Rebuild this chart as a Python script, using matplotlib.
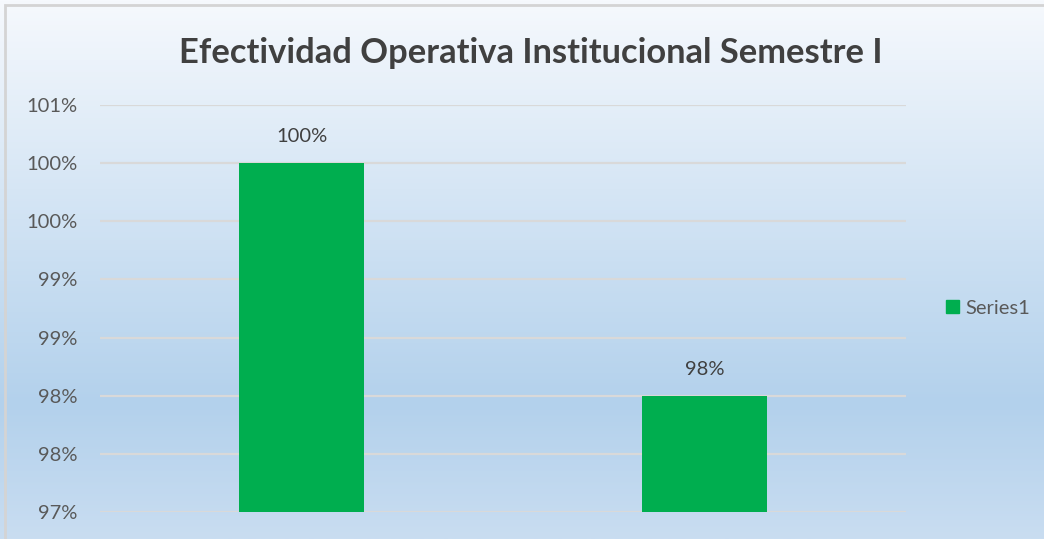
import matplotlib
matplotlib.use("Agg")
import matplotlib.pyplot as plt
import numpy as np
from matplotlib.ticker import FixedLocator, FuncFormatter
from matplotlib.patches import Rectangle

categories = ["Cat1", "Cat2"]
values = [1.00, 0.98]
series_name = "Series1"
title = "Efectividad Operativa Institucional Semestre I"
y_min, y_max, y_step = 0.97, 1.005, 0.005

W, H = 1044, 539
fig = plt.figure(figsize=(W / 100, H / 100), dpi=100)


def pct(v):
    # Excel style half-up rounding
    return f"{int(np.floor(v * 100 + 0.5 + 1e-9))}%"


# background gradient
bg = fig.add_axes([0, 0, 1, 1], zorder=-10)
bg.set_axis_off()
stops_y = [0.0, 0.35, 0.75, 1.0]
c_top = np.array([0xf6, 0xf9, 0xfd]) / 255
c_mid = np.array([0xd6, 0xe6, 0xf5]) / 255
c_dark = np.array([0xb3, 0xd1, 0xec]) / 255
c_bot = np.array([0xc9, 0xdd, 0xf1]) / 255
cols = [c_top, c_mid, c_dark, c_bot]
t = np.linspace(0, 1, 300)
grad = np.zeros((300, 1, 3))
for ch in range(3):
    grad[:, 0, ch] = np.interp(t, stops_y, [c[ch] for c in cols])
bg.imshow(grad, aspect="auto", extent=[0, 1, 0, 1], origin="upper")
bg.set_xlim(0, 1)
bg.set_ylim(0, 1)
bg.add_patch(Rectangle((5 / W, -0.01), 1.1, 1 - 5 / H + 0.01, fill=False,
                       edgecolor="#d4d4d4", linewidth=2))

ax = fig.add_axes([100 / W, 27 / H, 806 / W, 407 / H])
ax.patch.set_alpha(0)
x = np.arange(len(categories))
green = "#00ae4f"
bars = ax.bar(x, values, width=0.31, color=green, label=series_name, zorder=3)
ax.set_xlim(-0.5, len(categories) - 0.5)
ax.set_ylim(y_min, y_max)
ticks = np.arange(y_min, y_max + 1e-9, y_step)
ax.yaxis.set_major_locator(FixedLocator(ticks))
ax.yaxis.set_major_formatter(FuncFormatter(lambda v, p: pct(v)))
ax.grid(axis="y", color="#d9d9d9", linewidth=1.6, zorder=1)
ax.set_axisbelow(True)
for s in ax.spines.values():
    s.set_visible(False)
ax.set_xticks([])
ax.tick_params(axis="y", length=0, pad=16, labelsize=14.5, labelcolor="#595959")
for lab in ax.get_yticklabels():
    lab.set_family("Lato")

for xi, v in zip(x, values):
    ax.annotate(pct(v), (xi, v), xytext=(0, 19), textcoords="offset points",
                ha="center", va="center", fontsize=14.5, color="#404040", family="Lato")

fig.text(531 / W, 1 - 53 / H, title, ha="center", va="center", fontsize=24.8,
         fontweight="bold", color="#404040", family="Lato")

leg = fig.legend(handles=[Rectangle((0, 0), 1, 1, color=green)], labels=[series_name],
                 loc="center left", bbox_to_anchor=(928 / W, 1 - 308 / H), frameon=False,
                 handlelength=0.65, handleheight=0.65, handletextpad=0.3,
                 prop={"family": "Lato", "size": 14.5})
for tx in leg.get_texts():
    tx.set_color("#595959")

fig.savefig("out.png", dpi=100)
